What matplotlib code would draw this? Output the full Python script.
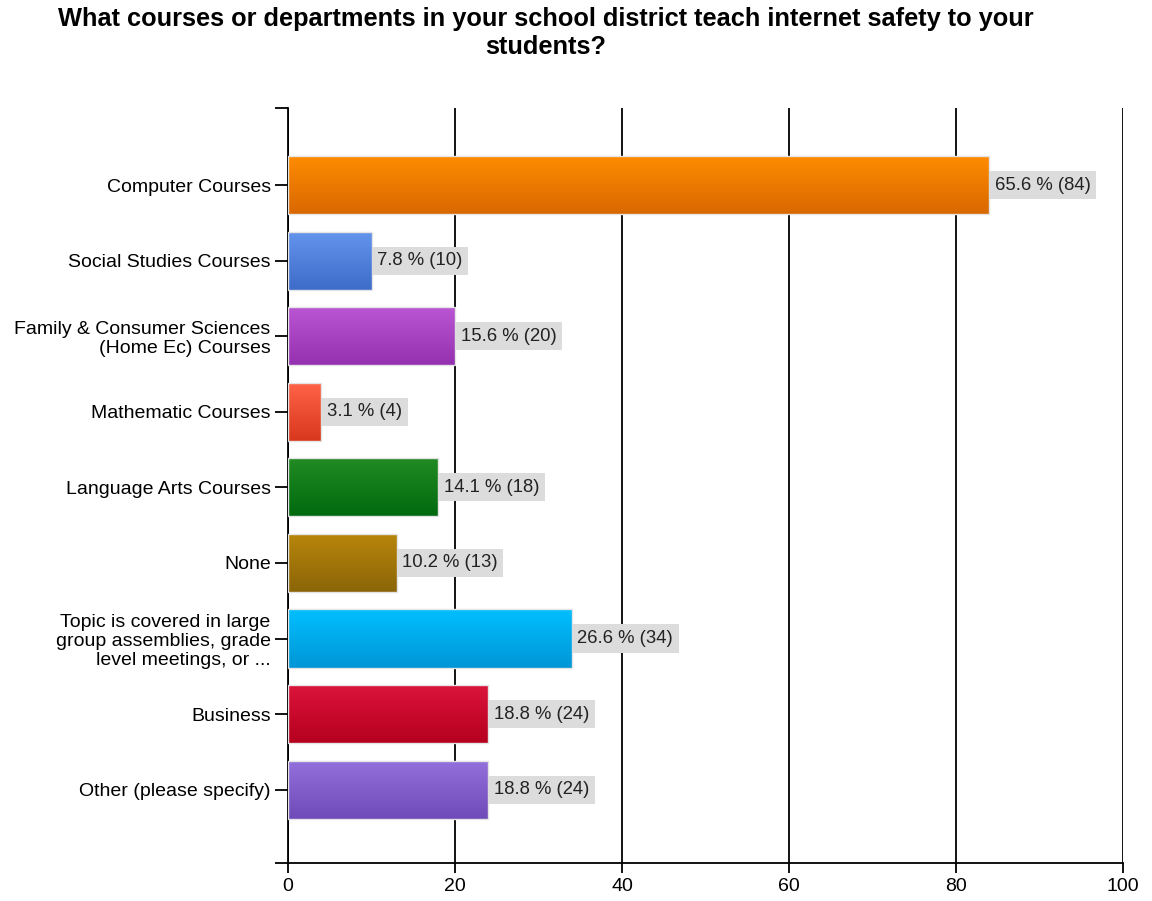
import numpy as np
import matplotlib.pyplot as plt
from matplotlib.colors import LinearSegmentedColormap

plt.rcParams['font.family'] = ['Liberation Sans', 'DejaVu Sans']

# Data
categories = [
    'Computer Courses',
    'Social Studies Courses',
    'Family & Consumer Sciences\n(Home Ec) Courses',
    'Mathematic Courses',
    'Language Arts Courses',
    'None',
    'Topic is covered in large\ngroup assemblies, grade\nlevel meetings, or ...',
    'Business',
    'Other (please specify)',
]
counts = [84, 10, 20, 4, 18, 13, 34, 24, 24]
percents = [65.6, 7.8, 15.6, 3.1, 14.1, 10.2, 26.6, 18.8, 18.8]
top_colors = ['#FF8C00', '#6495ED', '#BA55D3', '#FF6347', '#228B22',
              '#B8860B', '#00BFFF', '#DC143C', '#9370DB']
bottom_colors = ['#D96800', '#3D6CC9', '#9530B0', '#D9381E', '#006A10',
                 '#8B6508', '#0096D6', '#B5001E', '#6E4BB8']

fig = plt.figure(figsize=(11.52, 9.01), dpi=100)
ax = fig.add_axes([288 / 1152, 1 - 863 / 901, (1123 - 288) / 1152, (863 - 108) / 901])

y = np.arange(len(categories))
bar_h = 0.77
bars = ax.barh(y, counts, height=bar_h, color='none', edgecolor='#e4e4e4',
               linewidth=1.0, zorder=3)

# vertical gradient fill per bar, clipped to the bar rectangle
grad = np.linspace(0, 1, 64).reshape(-1, 1)
for i, b in enumerate(bars):
    cmap = LinearSegmentedColormap.from_list('g', [top_colors[i], bottom_colors[i]])
    im = ax.imshow(grad, cmap=cmap, aspect='auto', zorder=2,
                   extent=[0, counts[i], y[i] + bar_h / 2, y[i] - bar_h / 2])
    im.set_clip_path(b)
    ax.annotate(f'{percents[i]} % ({counts[i]})', xy=(counts[i], y[i]),
                xytext=(4, 0), textcoords='offset points', ha='left', va='center',
                fontsize=13.3, color='#222222', zorder=4,
                bbox=dict(boxstyle='square,pad=0.3', fc='#dcdcdc', ec='none'))

ax.set_xlim(0, 100)
ax.set_ylim(8.97, -1.02)
ax.set_xticks([0, 20, 40, 60, 80, 100])
ax.set_yticks(list(y) + [-1.02, 8.97])
ax.set_yticklabels(categories + ['', ''])
ax.tick_params(axis='y', length=9.5, width=1.3, labelsize=14, pad=3)
ax.tick_params(axis='x', length=7.5, width=1.3, labelsize=14, pad=3)
for lbl in ax.get_yticklabels():
    lbl.set_linespacing(1.13)
ax.grid(axis='x', color='black', linewidth=1.3, zorder=1)
ax.set_axisbelow(True)
for s in ['top', 'right']:
    ax.spines[s].set_visible(False)
for s in ['left', 'bottom']:
    ax.spines[s].set_linewidth(1.3)

fig.text(546 / 1152, 1 - 7 / 901,
         'What courses or departments in your school district teach internet safety to your\nstudents?',
         ha='center', va='top', fontsize=18.3, fontweight='bold', linespacing=1.2)
fig.savefig('out.png', dpi=100)
